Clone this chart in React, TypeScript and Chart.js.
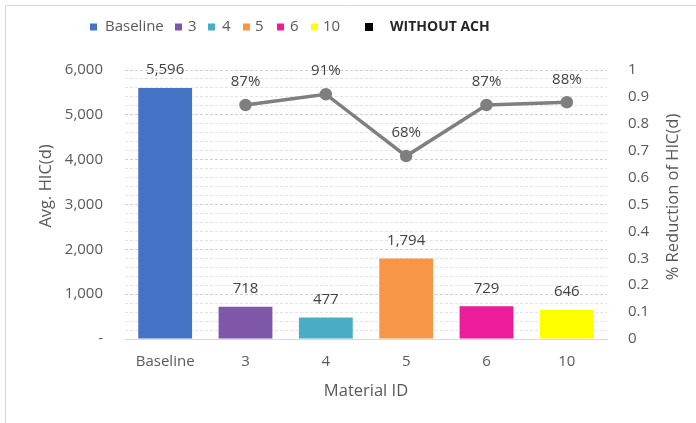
import React, { useEffect, useRef } from "react";
import { Chart, registerables } from "chart.js";

Chart.register(...registerables);

const categories = ["Baseline", "3", "4", "5", "6", "10"];
const avgHic = [5596, 718, 477, 1794, 729, 646];
const reduction = [null, 0.87, 0.91, 0.68, 0.87, 0.88];
const barColors = ["#4472C4", "#7E57A8", "#4BACC6", "#F79646", "#EC1C9A", "#FFFF00"];
const legendLabels = ["Baseline", "3", "4", "5", "6", "10"];
const extraLegend = "WITHOUT ACH";
const leftTitle = "Avg. HIC(d)";
const rightTitle = "% Reduction of HIC(d)";

const FONT = "'Open Sans', sans-serif";
const TEXT = "#595959";

// legend layout (square x, text x)
const legendSquareX = [90, 175, 208, 243, 277, 311];
const legendTextX = [105, 188, 222, 255, 290, 323];

const overlayPlugin = {
  id: "overlay",
  beforeDraw(chart: any) {
    const ctx = chart.ctx;
    ctx.save();
    ctx.fillStyle = "#ffffff";
    ctx.fillRect(0, 0, chart.width, chart.height);
    ctx.strokeStyle = "#d9d9d9";
    ctx.lineWidth = 1;
    ctx.beginPath();
    ctx.moveTo(5.5, chart.height);
    ctx.lineTo(5.5, 5.5);
    ctx.lineTo(chart.width, 5.5);
    ctx.stroke();
    ctx.restore();
  },
  afterDatasetsDraw(chart: any) {
    const ctx = chart.ctx;
    ctx.save();
    ctx.font = `15px ${FONT}`;
    ctx.fillStyle = "#404040";
    ctx.textAlign = "center";
    ctx.textBaseline = "middle";
    const barMeta = chart.getDatasetMeta(0);
    barMeta.data.forEach((el: any, i: number) => {
      const v = avgHic[i];
      ctx.fillText(v.toLocaleString("en-US"), el.x, el.y - 18);
    });
    const lineMeta = chart.getDatasetMeta(1);
    lineMeta.data.forEach((el: any, i: number) => {
      const v = reduction[i];
      if (v == null) return;
      ctx.fillText(Math.round(v * 100) + "%", el.x, el.y - 23);
    });
    ctx.restore();
  },
  afterDraw(chart: any) {
    const ctx = chart.ctx;
    ctx.save();
    ctx.textBaseline = "middle";
    ctx.textAlign = "left";
    const y = 27;
    ctx.font = `15px ${FONT}`;
    legendLabels.forEach((lab, i) => {
      ctx.fillStyle = barColors[i];
      ctx.fillRect(legendSquareX[i], y - 3.5, 7, 7);
      ctx.fillStyle = TEXT;
      ctx.fillText(lab, legendTextX[i], y);
    });
    ctx.fillStyle = "#000000";
    ctx.fillRect(365, y - 4, 8, 8);
    ctx.font = `bold 14px ${FONT}`;
    ctx.fillStyle = "#262626";
    ctx.fillText(extraLegend, 390, y);

    // axis titles
    ctx.font = `16.5px ${FONT}`;
    ctx.fillStyle = TEXT;
    ctx.textAlign = "center";
    ctx.save();
    ctx.translate(46, 186);
    ctx.rotate(-Math.PI / 2);
    ctx.fillText(leftTitle, 0, 0);
    ctx.restore();
    ctx.save();
    ctx.translate(673, 197);
    ctx.rotate(-Math.PI / 2);
    ctx.fillText(rightTitle, 0, 0);
    ctx.restore();
    ctx.restore();
  },
};

export default function App() {
  const ref = useRef<HTMLCanvasElement | null>(null);
  useEffect(() => {
    document.body.style.margin = "0";
    if (!ref.current) return;
    const chart = new Chart(ref.current, {
      type: "bar",
      data: {
        labels: categories,
        datasets: [
          {
            type: "bar",
            data: avgHic,
            backgroundColor: barColors,
            barPercentage: 0.67,
            categoryPercentage: 1,
            yAxisID: "y",
            order: 2,
          } as any,
          {
            type: "line",
            data: reduction,
            yAxisID: "y1",
            borderColor: "#7F7F7F",
            backgroundColor: "#7F7F7F",
            borderWidth: 3.5,
            pointRadius: 4.5,
            pointBackgroundColor: "#7F7F7F",
            pointBorderColor: "#7F7F7F",
            spanGaps: false,
            order: 1,
          } as any,
        ],
      },
      options: {
        animation: false,
        responsive: false,
        events: [],
        layout: { padding: { left: 5, right: 5, top: 70, bottom: 5 } },
        plugins: { legend: { display: false }, tooltip: { enabled: false } },
        scales: {
          x: {
            grid: { display: false, drawTicks: false },
            border: { display: true, color: "#d9d9d9" },
            ticks: { color: TEXT, font: { family: FONT, size: 15 }, padding: 14 },
            title: {
              display: true,
              text: "Material ID",
              color: TEXT,
              font: { family: FONT, size: 16.5 },
              padding: { top: 0, bottom: 17 },
            },
            afterFit: (s: any) => {
              s.height = 423 - 339 - 5;
            },
          },
          y: {
            position: "left",
            min: 0,
            max: 6000,
            grid: {
              drawTicks: false,
              color: (c: any) => (c.tick && c.tick.value % 1000 === 0 ? "#cfcfcf" : "#e3e3e3"),
            },
            border: { display: false, dash: [3, 2] },
            ticks: {
              stepSize: 200,
              autoSkip: false,
              color: TEXT,
              font: { family: FONT, size: 15 },
              padding: 22,
              callback: (v: any) => {
                const n = Number(v);
                if (n % 1000 !== 0) return "";
                if (n === 0) return "-";
                return n.toLocaleString("en-US");
              },
            },
            title: { display: false },
            afterFit: (s: any) => {
              s.width = 120;
            },
          },
          y1: {
            position: "right",
            min: 0,
            max: 1,
            grid: { display: false, drawTicks: false },
            border: { display: false },
            ticks: {
              stepSize: 0.1,
              color: TEXT,
              font: { family: FONT, size: 15 },
              padding: 21,
              callback: (v: any) => String(Math.round(Number(v) * 10) / 10),
            },
            title: { display: false },
            afterFit: (s: any) => {
              s.width = 696 - 607 - 5;
            },
          },
        },
      } as any,
      plugins: [overlayPlugin],
    });
    return () => chart.destroy();
  }, []);
  return (
    <div style={{ width: 696, height: 423 }}>
      <canvas ref={ref} width={696} height={423} style={{ display: "block" }} />
    </div>
  );
}
